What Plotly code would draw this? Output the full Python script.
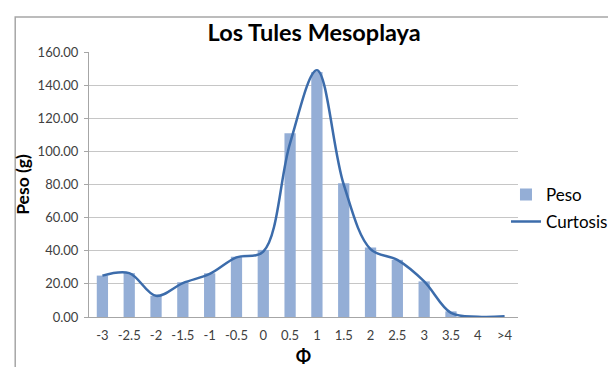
import plotly.graph_objects as go

# Phi classes and measured weights
phi = ["-3", "-2.5", "-2", "-1.5", "-1", "-0.5", "0", "0.5", "1", "1.5",
       "2", "2.5", "3", "3.5", "4", ">4"]
peso = [25, 26.5, 12.8, 21, 26.4, 36.4, 40.5, 111, 148, 80.7,
        42, 34.5, 21.5, 3.4, 0, 0]
curtosis = [25, 26.5, 12.8, 20.5, 26, 36, 39.5, 105, 149, 80,
            41, 34.5, 21.5, 2.5, 0.2, 0.4]

fig = go.Figure()

fig.add_trace(go.Bar(
    x=phi, y=peso, name="Peso", legendgroup="a",
    marker=dict(color="#94AED6", line=dict(width=0)),
    width=0.42,
))

fig.add_trace(go.Scatter(
    x=phi, y=curtosis, name="Curtosis", mode="lines", legendgroup="b",
    line=dict(color="#3C6CAB", width=2.5, shape="spline", smoothing=1),
))

# outer chart border (pixels converted to paper coords)
fig.add_shape(type="rect", xref="paper", yref="paper",
              x0=-0.172, x1=1.4, y0=-0.208, y1=1.132,
              line=dict(color="#A6A6A6", width=1.5), fillcolor="rgba(0,0,0,0)",
              layer="below")

fig.update_layout(
    width=616, height=367,
    margin=dict(l=81, r=106, t=44, b=58, autoexpand=False),
    paper_bgcolor="white", plot_bgcolor="white",
    font=dict(family="Lato, Carlito, sans-serif", color="#404040", size=13),
    title=dict(text="<b>Los Tules Mesoplaya</b>", x=0.497, xref="container",
               xanchor="center", y=0.932, yanchor="middle",
               font=dict(size=23.5, color="black")),
    showlegend=True,
    legend=dict(x=0.972, y=0.41, xanchor="left", yanchor="middle",
                font=dict(size=17, color="black"), bgcolor="rgba(0,0,0,0)",
                tracegroupgap=2),
    bargap=0.58,
)

fig.update_yaxes(
    range=[0, 160], dtick=20, tickformat=".2f",
    showgrid=True, gridcolor="#C6C6C6", gridwidth=1,
    showline=True, linecolor="#A6A6A6", linewidth=1,
    ticks="outside", ticklen=4, tickcolor="#A6A6A6",
    ticklabelstandoff=3,
    zeroline=False,
    title=dict(text="<b>Peso (g)</b>", font=dict(size=17.5, color="black"), standoff=3),
)

fig.update_xaxes(
    type="category",
    showline=True, linecolor="#A6A6A6", linewidth=1,
    showgrid=False, ticks="", ticklabelstandoff=6,
    title=dict(text="<b>Φ</b>", font=dict(size=18, color="black"), standoff=8),
)

fig.write_html("out.html")
